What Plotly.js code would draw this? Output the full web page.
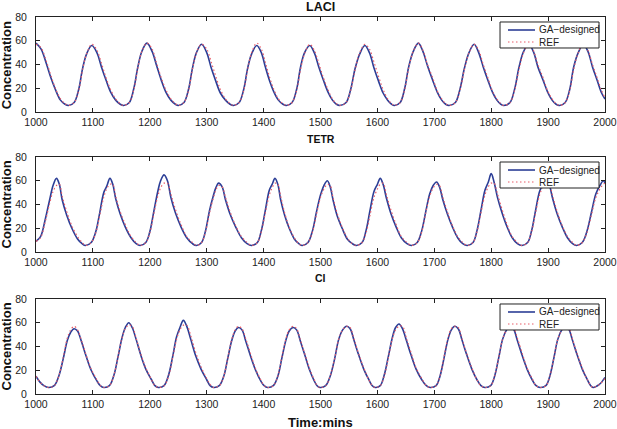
<!DOCTYPE html>
<html>
<head>
<meta charset="utf-8">
<script src="https://cdn.plot.ly/plotly-3.0.1.min.js"></script>
<style>
  body { margin: 0; background: #fff; }
  #chart { width: 617px; height: 429px; }
</style>
</head>
<body>
<div id="chart"></div>
<script>
//panel names
var panels = ["LACI", "TETR", "CI"];

//LACI : time (mins) and concentration
var t_laci = [1000,1009,1018,1026,1034,1043,1051,1057,
  1067,1075,1082,1089,1098, 1107,1115,1123,1131,1140,1148,1154,
  1164,1172,1179,1186,1195, 1204,1212,1220,1228,1237,1245,1250,
  1260,1268,1275,1282,1291, 1300,1308,1316,1324,1333,1341,1347,
  1357,1365,1372,1379,1388, 1396,1403,1410,1418,1426,1434,1440,
  1450,1458,1465,1472,1481, 1489,1497,1505,1513,1521,1528,1534,
  1545,1553,1561,1569,1578, 1586,1594,1602,1610,1618,1625,1630,
  1640,1648,1655,1663,1672, 1680,1688,1697,1705,1713,1720,1726,
  1737,1745,1753,1761,1770, 1778,1786,1794,1802,1810,1817,1822,
  1833,1841,1849,1857,1866, 1874,1882,1891,1899,1907,1914,1920,
  1930,1938,1945,1953,1962, 1970,1978,1986,1994,2000];
var ga_laci = [58,53,41,29,19,10,6.5,5.5,
  8,19,37,49,56, 50,38,27,17,10,6.5,5.5,
  8,20,38,51,58, 51,39,27,17,10,6.5,5.5,
  8,19,37,50,57, 50,37,26,16,10,6.5,5.5,
  8,19,37,49,56, 50,38,27,17,10,6.5,5.5,
  8,19,38,50,56, 50,38,27,17,10,6.5,5.5,
  8,19,37,49,56, 50,37,26,16,10,6.5,5.5,
  8,20,38,51,58, 51,39,27,17,10,6.5,5.5,
  8,19,37,50,57, 50,38,27,17,10,6.5,5.5,
  8,19,38,51,57, 51,38,27,17,10,6.5,5.5,
  8,19,38,50,57, 51,38,27,16,11];
var ref_laci = [57,54,43,31,20,11,7,5.5,
  8,18,36,49,57, 52,41,29,19,11,7,5.5,
  8,19,37,51,58, 53,41,29,19,11,7,5.5,
  8,18,36,50,57, 53,42,30,19,11,7,5.5,
  8,18,36,50,58, 53,42,30,19,11,7,5.5,
  8,18,36,49,57, 52,41,29,19,11,7,5.5,
  8,18,36,50,57, 53,42,30,19,11,7,5.5,
  8,19,37,51,58, 52,40,29,18,11,7,5.5,
  8,18,36,50,57, 52,40,29,18,11,7,5.5,
  8,18,36,50,58, 52,40,29,18,11,7,5.5,
  8,18,36,50,58, 52,40,29,18,12];

//TETR
var t_tetr = [1000,1008,1016,1024,1030,1036, 1041,1046,1054,1063,1073,1081,1087,
  1097,1105,1112,1119,1124,1130, 1135,1140,1148,1157,1167,1176,1183,
  1193,1200,1207,1214,1219,1225, 1231,1237,1245,1255,1265,1275,1282,
  1291,1298,1305,1312,1316,1321, 1327,1333,1341,1351,1361,1371,1379,
  1389,1396,1403,1410,1415,1420, 1425,1430,1437,1445,1454,1462,1468,
  1478,1486,1493,1500,1506,1512, 1517,1522,1529,1538,1547,1556,1563,
  1573,1580,1587,1594,1600,1605, 1610,1616,1624,1633,1642,1652,1660,
  1670,1678,1685,1692,1698,1704, 1709,1715,1723,1732,1741,1750,1758,
  1768,1775,1782,1789,1795,1800, 1805,1811,1819,1828,1837,1846,1854,
  1864,1871,1878,1885,1891,1897, 1902,1908,1916,1925,1934,1943,1950,
  1960,1968,1976,1984,1991,1997,2000];
var ga_tetr = [9,13,27,44,56,62, 57,44,31,20,11,7,5.5,
  8,17,33,50,55,62, 57,45,32,21,12,7,5.5,
  8,17,34,51,60,65, 60,46,33,21,12,7,5.5,
  8,18,35,48,54,58, 55,44,32,21,12,7,5.5,
  8,18,35,52,57,62, 57,44,31,20,11,7,5.5,
  8,18,34,48,56,60, 55,44,31,20,11,7,5.5,
  8,18,35,51,57,62, 57,45,32,21,12,7,5.5,
  8,18,34,49,56,59, 55,44,32,21,12,7,5.5,
  8,18,35,52,59,66, 59,46,33,21,12,7,5.5,
  8,18,35,51,57,62, 57,45,32,21,12,7,5.5,
  8,17,33,49,56,60,58];
var ref_tetr = [9,12,25,41,51,56, 57,47,34,22,13,8,5.5,
  8,16,31,46,53,57, 57,47,34,23,13,8,5.5,
  8,16,32,47,54,58, 58,49,36,23,13,8,5.5,
  8,17,33,46,52,56, 55,46,34,22,13,8,5.5,
  8,17,33,48,54,58, 57,47,33,21,12,7,5.5,
  8,17,32,46,53,57, 56,46,33,21,12,7,5.5,
  8,16,31,46,53,57, 58,48,35,23,13,8,5.5,
  8,17,33,47,54,57, 56,46,34,22,13,8,5.5,
  8,17,33,48,55,58, 58,49,36,23,13,8,5.5,
  8,17,33,48,55,58, 57,47,34,22,13,8,5.5,
  8,16,31,46,53,57,58];

//CI
var t_ci = [1000,1007,1014,1022,
  1032,1040,1048,1055,1061,1067, 1073,1080,1088,1097,1107,1113,1119,
  1129,1137,1144,1151,1157,1163, 1169,1176,1184,1193,1203,1209,1215,
  1225,1233,1240,1247,1253,1259, 1265,1272,1280,1290,1300,1306,1312,
  1322,1330,1337,1344,1350,1356, 1362,1369,1377,1386,1395,1401,1407,
  1417,1425,1432,1439,1445,1452, 1458,1465,1473,1481,1489,1494,1499,
  1509,1517,1525,1532,1539,1546, 1552,1559,1567,1576,1585,1591,1596,
  1605,1612,1619,1626,1632,1638, 1644,1651,1659,1668,1678,1686,1693,
  1703,1710,1717,1724,1730,1736, 1742,1749,1757,1766,1775,1782,1789,
  1799,1806,1813,1820,1827,1833, 1839,1846,1854,1863,1872,1879,1886,
  1896,1903,1910,1917,1924,1930, 1936,1943,1951,1960,1969,1975,1979,
  1990,2000];
var ga_ci = [15,10,7,5.5,
  7,15,30,45,52,55, 53,44,32,20,11,7,5.5,
  7,16,31,47,56,60, 56,46,33,21,12,7,5.5,
  7,16,31,48,56,62, 57,46,33,21,12,7,5.5,
  7,15,30,45,53,56, 54,44,32,20,11,7,5.5,
  7,15,30,45,53,56, 54,44,32,20,11,7,5.5,
  7,15,30,46,54,57, 55,45,33,21,12,7,5.5,
  7,16,31,47,56,59, 55,45,33,21,12,7,5.5,
  7,15,30,46,54,57, 55,45,33,21,12,7,5.5,
  7,15,30,46,54,57, 55,45,33,21,12,7,5.5,
  7,15,30,46,54,57, 55,45,33,21,12,7,5.5,
  8,14];
var ref_ci = [15,10,7,5.5,
  7,15,31,47,54,57, 54,45,33,21,12,7,5.5,
  7,16,31,47,55,58, 57,47,34,22,12,7,5.5,
  7,15,30,46,54,58, 58,49,36,23,13,8,5.5,
  7,15,30,46,54,57, 55,46,34,21,12,7,5.5,
  7,15,31,46,54,57, 55,45,33,21,12,7,5.5,
  7,15,30,46,54,57, 56,46,34,22,12,7,5.5,
  7,15,30,46,54,57, 57,47,35,22,13,7,5.5,
  7,15,31,47,55,57, 56,46,34,22,12,7,5.5,
  7,15,30,46,54,57, 56,47,35,22,13,7,5.5,
  7,15,30,46,54,57, 56,46,34,22,12,7,5.5,
  8,13];

//styles
var blue = 'rgb(44, 62, 150)';
var red = 'rgb(232, 92, 104)';
var font = 'Liberation Sans, Arial, Helvetica, sans-serif';

function gaTrace(t, y, ax){
    return {
        x: t, y: y, type: 'scatter', mode: 'lines', name: 'GA\u2212designed',
        xaxis: 'x' + ax, yaxis: 'y' + ax, showlegend: false,
        line: {color: blue, width: 1.6, shape: 'spline', smoothing: 1}
    };
}
function refTrace(t, y, ax){
    return {
        x: t, y: y, type: 'scatter', mode: 'lines', name: 'REF',
        xaxis: 'x' + ax, yaxis: 'y' + ax, showlegend: false,
        line: {color: red, width: 1.2, dash: '1.5px,2.5px', shape: 'spline', smoothing: 1}
    };
}

var data = [
    gaTrace(t_laci, ga_laci, ''), refTrace(t_laci, ref_laci, ''),
    gaTrace(t_tetr, ga_tetr, '2'), refTrace(t_tetr, ref_tetr, '2'),
    gaTrace(t_ci, ga_ci, '3'), refTrace(t_ci, ref_ci, '3')
];

function xAxis(anchor){
    return {
        anchor: anchor, domain: [0, 1], range: [1000, 2000], dtick: 100,
        ticks: 'inside', ticklen: 4, tickcolor: '#222', mirror: 'ticks',
        showline: true, linecolor: '#222', linewidth: 1,
        showgrid: false, zeroline: false, fixedrange: true,
        tickfont: {family: font, size: 10.5, color: '#222'}
    };
}
function yAxis(anchor, dom){
    return {
        anchor: anchor, domain: dom, range: [0, 80], dtick: 20,
        ticks: 'inside', ticklen: 4, tickcolor: '#222', mirror: 'ticks',
        showline: true, linecolor: '#222', linewidth: 1,
        showgrid: false, zeroline: false, fixedrange: true,
        ticklabelstandoff: 6,
        tickfont: {family: font, size: 10.5, color: '#222'}
    };
}

//legend box drawn inside each panel (top right)
var shapes = [];
var annotations = [];
function addLegend(yr, xr){
    shapes.push({type: 'rect', xref: xr + ' domain', yref: yr + ' domain',
        x0: 0.8155, x1: 0.9895, y0: 0.6737, y1: 0.9474,
        fillcolor: '#fff', line: {color: '#222', width: 1}, layer: 'above'});
    shapes.push({type: 'line', xref: xr + ' domain', yref: yr + ' domain',
        x0: 0.8295, x1: 0.877, y0: 0.8632, y1: 0.8632,
        line: {color: blue, width: 1.6}, layer: 'above'});
    shapes.push({type: 'line', xref: xr + ' domain', yref: yr + ' domain',
        x0: 0.8295, x1: 0.877, y0: 0.7368, y1: 0.7368,
        line: {color: red, width: 1.2, dash: '1.5px,2.5px'}, layer: 'above'});
    annotations.push({text: 'GA\u2212designed', xref: xr + ' domain', yref: yr + ' domain',
        x: 0.8805, y: 0.8632, xanchor: 'left', yanchor: 'middle', showarrow: false,
        font: {family: font, size: 10, color: '#222'}});
    annotations.push({text: 'REF', xref: xr + ' domain', yref: yr + ' domain',
        x: 0.8805, y: 0.7368, xanchor: 'left', yanchor: 'middle', showarrow: false,
        font: {family: font, size: 10, color: '#222'}});
}
addLegend('y', 'x');
addLegend('y2', 'x2');
addLegend('y3', 'x3');

//panel titles and axis labels
var titleY = [1.0255, 0.6777, 0.3077];
var titleSize = [12.5, 10.5, 10.5];
var labelY = [0.872, 0.5027, 0.126];
for (var i = 0; i < panels.length; i++){
    annotations.push({text: panels[i], xref: 'paper', yref: 'paper', x: 0.5, y: titleY[i],
        xanchor: 'center', yanchor: 'middle', showarrow: false,
        font: {family: font, size: titleSize[i], color: '#111', weight: 'bold'}});
    annotations.push({text: 'Concentration', xref: 'paper', yref: 'paper', x: -0.0527, y: labelY[i],
        xanchor: 'center', yanchor: 'middle', textangle: -90, showarrow: false,
        font: {family: font, size: 13, color: '#111', weight: 'bold'}});
}
annotations.push({text: 'Time:mins', xref: 'paper', yref: 'paper', x: 0.5, y: -0.0743,
    xanchor: 'center', yanchor: 'middle', showarrow: false,
    font: {family: font, size: 13, color: '#111', weight: 'bold'}});

var layout = {
    width: 617, height: 429, autosize: false,
    margin: {l: 36, r: 12, t: 17, b: 35},
    paper_bgcolor: '#fff', plot_bgcolor: '#fff',
    showlegend: false,
    xaxis: xAxis('y'), yaxis: yAxis('x', [0.748, 1]),
    xaxis2: xAxis('y2'), yaxis2: yAxis('x2', [0.3767, 0.6286]),
    xaxis3: xAxis('y3'), yaxis3: yAxis('x3', [0, 0.252]),
    shapes: shapes,
    annotations: annotations
};

Plotly.newPlot('chart', data, layout, {displayModeBar: false});
</script>
</body>
</html>
